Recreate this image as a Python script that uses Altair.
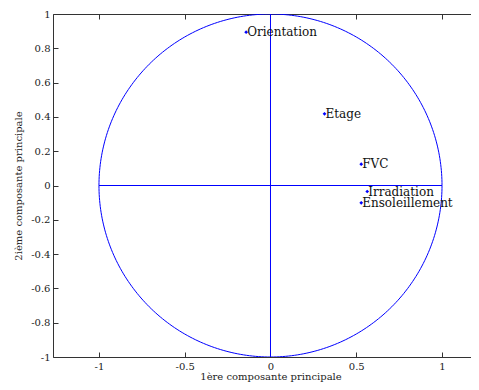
import altair as alt
import pandas as pd
import numpy as np

# ---- data ----
names = ["Orientation", "Etage", "FVC", "Irradiation", "Ensoleillement"]
pc1 = [-0.142, 0.315, 0.529, 0.564, 0.529]
pc2 = [0.894, 0.418, 0.124, -0.035, -0.101]

x_ticks = [-1, -0.5, 0, 0.5, 1]
y_ticks = [-1, -0.8, -0.6, -0.4, -0.2, 0, 0.2, 0.4, 0.6, 0.8, 1]
x_domain = [-1.268, 1.169]
y_domain = [-1, 1]

# unit correlation circle (geometry, not data)
ang = np.linspace(0, 2 * np.pi, 361)
circle = pd.DataFrame({"x": np.cos(ang), "y": np.sin(ang), "i": np.arange(361)})

cross = pd.DataFrame({"x": [-1, 0], "x2": [1, 0], "y": [0, -1], "y2": [0, 1]})
pts = pd.DataFrame({"name": names, "pc1": pc1, "pc2": pc2})

FONT = "DejaVu Serif"
AX = "#333333"
BLUE = "#0000ff"
W, H = 418, 343

xs = alt.Scale(domain=x_domain, nice=False, zero=False)
ys = alt.Scale(domain=y_domain, nice=False, zero=False)
lab = "replace(toString(datum.value), '\u2212', '-')"

circle_layer = alt.Chart(circle).mark_line(color=BLUE, strokeWidth=1, clip=True).encode(
    x=alt.X("x:Q", scale=xs, axis=alt.Axis(
        orient="bottom", values=x_ticks, ticks=False, grid=False,
        domainColor=AX, domainWidth=1, labelFont=FONT, labelFontSize=10,
        labelColor="#222222", labelPadding=4, labelExpr=lab,
        title="1ère composante principale", titleFont=FONT, titleFontSize=10,
        titleFontWeight="normal", titleColor="#222222", titleX=217.5, titleY=19.5,
        titleBaseline="middle", titleAlign="center")),
    y=alt.Y("y:Q", scale=ys, axis=alt.Axis(
        orient="left", values=y_ticks, ticks=False, grid=False,
        domainColor=AX, domainWidth=1, labelFont=FONT, labelFontSize=10,
        labelColor="#222222", labelPadding=3, labelExpr=lab,
        title="2ième composante principale", titleFont=FONT, titleFontSize=10,
        titleFontWeight="normal", titleColor="#222222", titleX=-35, titleY=H / 2,
        titleBaseline="middle", titleAlign="center", titleAngle=-90)),
    order="i:Q",
)

cross_layer = alt.Chart(cross).mark_rule(color=BLUE, strokeWidth=1).encode(
    x=alt.X("x:Q", scale=xs, axis=alt.Axis(
        orient="top", values=x_ticks, ticks=False, labels=False, grid=False,
        domain=True, domainColor=AX, domainWidth=1, title=None)),
    x2="x2:Q",
    y=alt.Y("y:Q", scale=ys, axis=alt.Axis(
        orient="left", values=y_ticks, ticks=True, tickSize=5, tickColor=AX,
        offset=-5, labels=False, grid=False, domain=False, title=None)),
    y2="y2:Q",
)

point_layer = alt.Chart(pts).mark_point(filled=True, color=BLUE, size=14, shape="diamond", opacity=1).encode(
    x=alt.X("pc1:Q", scale=xs, axis=alt.Axis(
        orient="bottom", values=x_ticks, ticks=True, tickSize=5, tickColor=AX,
        offset=-5, labels=False, grid=False, domain=False, title=None)),
    y=alt.Y("pc2:Q", scale=ys, axis=None),
)

text_layer = alt.Chart(pts).mark_text(
    align="left", baseline="middle", dx=1, font=FONT, fontSize=12, color="#111111"
).encode(
    x=alt.X("pc1:Q", scale=xs, axis=alt.Axis(
        orient="top", values=x_ticks, ticks=True, tickSize=5, tickColor=AX,
        offset=-5, labels=False, grid=False, domain=False, title=None)),
    y=alt.Y("pc2:Q", scale=ys, axis=None),
    text="name:N",
)

chart = alt.layer(circle_layer, cross_layer, point_layer, text_layer).resolve_axis(
    x="independent", y="independent"
).properties(
    width=W, height=H,
    padding={"left": 45, "top": 6, "right": 0, "bottom": 25},
    autosize=alt.AutoSizeParams(type="none"),
).configure_view(stroke=None).configure(background="white")

chart.save("out.html", embed_options={"renderer": "svg", "actions": False})
